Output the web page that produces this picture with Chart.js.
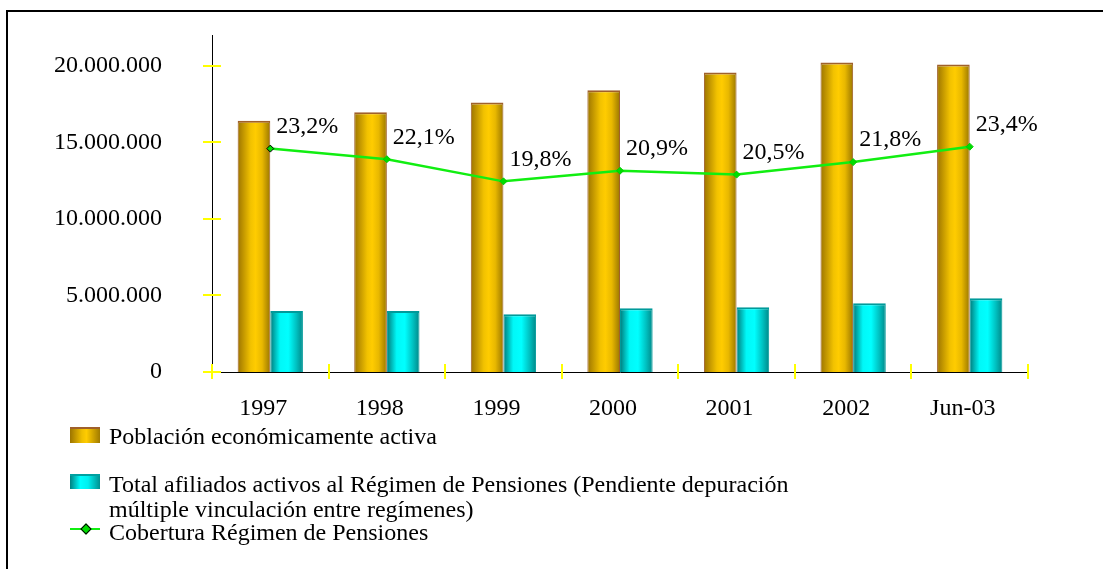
<!DOCTYPE html>
<html>
<head>
<meta charset="utf-8">
<script src="https://cdn.jsdelivr.net/npm/chart.js@4/dist/chart.umd.min.js"></script>
<style>
  body { margin: 0; background: #fff; }
  #wrap { position: relative; width: 1103px; height: 569px; overflow: hidden; font-family: "Liberation Serif", "Times New Roman", serif; }
  #frame { position: absolute; left: 6px; top: 10px; right: -10px; bottom: -10px; border-top: 2px solid #000; border-left: 2px solid #000; }
  canvas { position: absolute; left: 0; top: 0; }
  .leg { position: absolute; left: 109px; font-size: 24px; line-height: 25px; color: #000; white-space: nowrap; }
  .sw { position: absolute; left: 70px; width: 30px; }
</style>
</head>
<body>
<div id="wrap">
  <div id="frame"></div>
  <canvas id="chart" width="1103" height="569"></canvas>
  <div class="sw" style="top:427px;height:16px;background:linear-gradient(90deg,#9c7400,#f0c000 40%,#ffcc00 55%,#a07a00);border-top:2px solid #a0602a;box-sizing:border-box;"></div>
  <div class="leg" style="top:424px;">Población económicamente activa</div>
  <div class="sw" style="top:474px;height:15px;background:linear-gradient(90deg,#008080,#00ffff 35%,#00f0f0 60%,#009090);border-top:2px solid #00a0a0;box-sizing:border-box;"></div>
  <div class="leg" style="top:472px;">Total afiliados activos al Régimen de Pensiones (Pendiente depuración<br>múltiple vinculación entre regímenes)</div>
  <div class="sw" style="top:528px;height:2px;background:#11ee11;"></div>
  <div style="position:absolute;left:82px;top:525px;width:6px;height:6px;background:#00dd00;border:1px solid #000;transform:rotate(45deg);"></div>
  <div class="leg" style="top:520px;">Cobertura Régimen de Pensiones</div>
</div>
<script>
const categories = ["1997", "1998", "1999", "2000", "2001", "2002", "Jun-03"];
const poblacion = [16400000, 16950000, 17600000, 18400000, 19560000, 20200000, 20080000];
const afiliados = [3990000, 3990000, 3770000, 4160000, 4230000, 4490000, 4820000];
const cobertura = [23.2, 22.1, 19.8, 20.9, 20.5, 21.8, 23.4];
const yTicks = [0, 5000000, 10000000, 15000000, 20000000];

const FONT = "'Liberation Serif', 'Times New Roman', serif";

function thousands(v) {
  return String(v).replace(/\B(?=(\d{3})+(?!\d))/g, ".");
}

// cylinder look: horizontal gradient per bar
const barShade = {
  id: "barShade",
  beforeDatasetsDraw(chart) {
    const ctx = chart.ctx;
    const stops = [
      [[0, "#9c7400"], [0.4, "#f2c200"], [0.55, "#ffcc00"], [0.75, "#e8b800"], [1, "#9a7600"]],
      [[0, "#007a7a"], [0.3, "#00f8f8"], [0.55, "#00ffff"], [0.8, "#00c0c0"], [1, "#008888"]]
    ];
    [0, 1].forEach((di) => {
      chart.getDatasetMeta(di).data.forEach((el) => {
        const g = ctx.createLinearGradient(el.x - el.width / 2, 0, el.x + el.width / 2, 0);
        stops[di].forEach((s) => g.addColorStop(s[0], s[1]));
        el.options = Object.assign({}, el.options, { backgroundColor: g });
      });
    });
  }
};

// yellow tick marks crossing the axes, plus percent labels
const extras = {
  id: "extras",
  afterDraw(chart) {
    const ctx = chart.ctx;
    const x = chart.scales.x;
    const y = chart.scales.y;
    ctx.save();
    ctx.strokeStyle = "#ffff00";
    ctx.lineWidth = 2;
    yTicks.forEach((v) => {
      const py = Math.round(y.getPixelForValue(v));
      ctx.beginPath();
      ctx.moveTo(x.left - 9, py);
      ctx.lineTo(x.left + 9, py);
      ctx.stroke();
    });
    const step = (x.right - x.left) / categories.length;
    for (let i = 0; i <= categories.length; i++) {
      const px = Math.round(x.left + i * step);
      ctx.beginPath();
      ctx.moveTo(px, y.bottom - 8);
      ctx.lineTo(px, y.bottom + 7);
      ctx.stroke();
    }
    ctx.fillStyle = "#000";
    ctx.font = "24px " + FONT;
    ctx.textAlign = "left";
    ctx.textBaseline = "middle";
    chart.getDatasetMeta(2).data.forEach((pt, i) => {
      ctx.fillText(cobertura[i].toFixed(1).replace(".", ",") + "%", pt.x + 6, pt.y - 22);
    });
    ctx.restore();
  }
};

new Chart(document.getElementById("chart"), {
  type: "bar",
  data: {
    labels: categories,
    datasets: [
      {
        label: "Población económicamente activa",
        data: poblacion,
        backgroundColor: "#f5c400",
        borderColor: "#a0602a",
        borderWidth: { top: 2, left: 1, right: 1, bottom: 0 },
        borderSkipped: false,
        categoryPercentage: 0.56,
        barPercentage: 1,
        order: 1
      },
      {
        label: "Total afiliados activos al Régimen de Pensiones",
        data: afiliados,
        backgroundColor: "#00ffff",
        borderColor: "#009a9a",
        borderWidth: { top: 2, left: 1, right: 1, bottom: 0 },
        borderSkipped: false,
        categoryPercentage: 0.56,
        barPercentage: 1,
        order: 1
      },
      {
        type: "line",
        label: "Cobertura Régimen de Pensiones",
        data: cobertura,
        yAxisID: "y1",
        borderColor: "#11ee11",
        borderWidth: 2.5,
        pointStyle: "rectRot",
        pointRadius: 3.5,
        pointBackgroundColor: "#00dd00",
        pointBorderColor: ["#000", "#00cc00", "#00cc00", "#00cc00", "#00cc00", "#00cc00", "#00cc00"],
        pointBorderWidth: 1,
        tension: 0,
        order: 0
      }
    ]
  },
  options: {
    responsive: false,
    animation: false,
    layout: { padding: { left: 0, top: 35, right: 75, bottom: 137 } },
    plugins: {
      legend: { display: false },
      tooltip: { enabled: false }
    },
    scales: {
      x: {
        grid: { display: false, drawTicks: false },
        border: { display: true, color: "#000", width: 1 },
        ticks: { color: "#000", font: { family: FONT, size: 24 }, padding: 22, labelOffset: -7, maxRotation: 0 },
        afterFit: (s) => { s.height = 60; s.paddingLeft = 0; s.paddingRight = 0; }
      },
      y: {
        min: 0,
        max: 22000000,
        grid: { display: false, drawTicks: false },
        border: { display: true, color: "#000", width: 1 },
        ticks: {
          autoSkip: false,
          padding: 50,
          color: "#000",
          font: { family: FONT, size: 24 },
          callback: (v) => thousands(v)
        },
        afterBuildTicks: (s) => { s.ticks = yTicks.map((v) => ({ value: v })); },
        afterFit: (s) => { s.width = 212; s.paddingTop = 0; s.paddingBottom = 0; }
      },
      y1: {
        display: false,
        min: 0,
        max: 35
      }
    }
  },
  plugins: [barShade, extras]
});
</script>
</body>
</html>
